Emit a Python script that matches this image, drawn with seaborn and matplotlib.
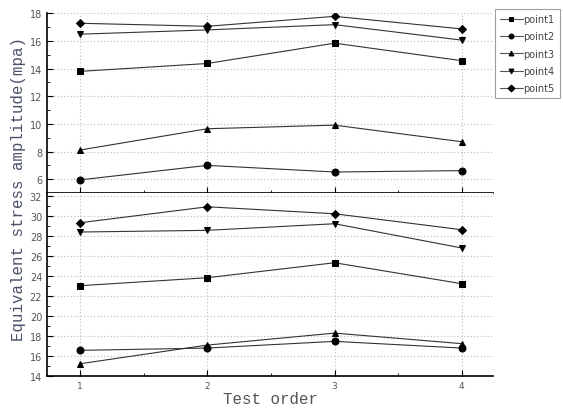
import matplotlib
matplotlib.use("Agg")
import matplotlib.pyplot as plt
import seaborn as sns
import pandas as pd
from matplotlib.ticker import MultipleLocator

sns.set_theme(style="white")
plt.rcParams['font.family'] = ['DejaVu Sans']

test_order = [1, 2, 3, 4]
series = ["point1", "point2", "point3", "point4", "point5"]

# top panel
top_p1 = [13.80, 14.37, 15.84, 14.57]
top_p2 = [5.95, 7.00, 6.52, 6.62]
top_p3 = [8.11, 9.65, 9.91, 8.71]
top_p4 = [16.49, 16.80, 17.18, 16.06]
top_p5 = [17.28, 17.06, 17.78, 16.87]

# bottom panel
bot_p1 = [23.05, 23.85, 25.35, 23.25]
bot_p2 = [16.57, 16.80, 17.47, 16.80]
bot_p3 = [15.23, 17.10, 18.30, 17.24]
bot_p4 = [28.43, 28.60, 29.26, 26.83]
bot_p5 = [29.36, 30.96, 30.26, 28.66]

def long_df(vals):
    rows = []
    for name, v in zip(series, vals):
        for x, y in zip(test_order, v):
            rows.append({"order": x, "value": y, "point": name})
    return pd.DataFrame(rows)

df_top = long_df([top_p1, top_p2, top_p3, top_p4, top_p5])
df_bot = long_df([bot_p1, bot_p2, bot_p3, bot_p4, bot_p5])

markers = ["s", "o", "^", "v", "D"]
palette = ["#333333"] * 5

fig = plt.figure(figsize=(5.63, 4.10), dpi=100)
ax_top = fig.add_axes([0.0835, 0.5268, 0.7922, 0.4383])
ax_bot = fig.add_axes([0.0835, 0.0805, 0.7922, 0.4463])

for ax, df in [(ax_top, df_top), (ax_bot, df_bot)]:
    sns.lineplot(data=df, x="order", y="value", hue="point", style="point",
                 markers=markers, dashes=False, palette=palette, ax=ax,
                 linewidth=0.8, markersize=5, markeredgecolor="black",
                 markerfacecolor="black", legend=(ax is ax_top))
    for line in ax.lines:
        if line.get_marker() == "D":
            line.set_markersize(3.8)
    ax.set_xlim(0.74, 4.245)
    ax.set_xlabel("")
    ax.set_ylabel("")
    ax.grid(True, which="major", linestyle=(0, (1, 2)), color="#bbbbbb", linewidth=0.8)
    for s in ["top", "right"]:
        ax.spines[s].set_visible(False)
    for s in ["left", "bottom"]:
        ax.spines[s].set_color("black")
        ax.spines[s].set_linewidth(1.2)
    ax.xaxis.set_major_locator(MultipleLocator(1))
    ax.xaxis.set_minor_locator(MultipleLocator(0.5))
    ax.yaxis.set_major_locator(MultipleLocator(2))
    ax.yaxis.set_minor_locator(MultipleLocator(1))
    ax.tick_params(which="both", direction="in", left=True, bottom=True,
                   colors="black", labelcolor="#555555")
    ax.tick_params(which="major", length=4, width=0.8, labelsize=7)
    ax.tick_params(which="minor", length=2, width=0.6)
    ax.set_facecolor("white")

ax_top.set_ylim(5, 18)
ax_top.tick_params(axis="x", labelbottom=False)
ax_bot.set_ylim(14, 32.34)
ax_bot.tick_params(axis="x", labelsize=6.5)
ax_bot.set_xticks(test_order)

handles, labels = ax_top.get_legend_handles_labels()
ax_top.get_legend().remove()
for h in handles:
    h.set_markersize(3.5)
    h.set_color("#555555")
    h.set_markerfacecolor("black")
    h.set_markeredgecolor("black")
leg = fig.legend(handles, labels, loc="upper left",
                 bbox_to_anchor=(0.879, 0.975), fontsize=7,
                 handlelength=2.4, labelspacing=0.75, handletextpad=0.05,
                 borderpad=0.5, borderaxespad=0.0, fancybox=False, frameon=True)
leg.get_frame().set_edgecolor("#888888")
leg.get_frame().set_linewidth(0.8)
for t in leg.get_texts():
    t.set_color("#444444")

fig.text(0.032, 0.54, "Equivalent stress amplitude(mpa)", rotation=90,
         ha="center", va="center", family="Liberation Mono", fontsize=11.3,
         color="#4a5068")
fig.text(0.48, 0.025, "Test order", ha="center", va="center",
         family="Liberation Mono", fontsize=11.3, color="#555555")

fig.savefig("out.png", dpi=100, facecolor="white")
